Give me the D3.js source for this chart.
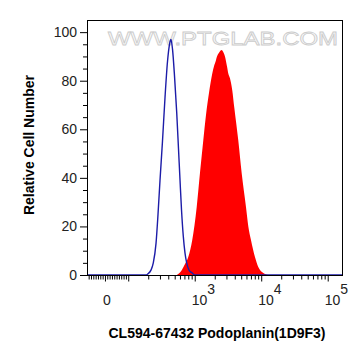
<!DOCTYPE html>
<html>
<head>
<meta charset="utf-8">
<script src="https://cdn.jsdelivr.net/npm/d3@7"></script>
<style>
  body { margin: 0; background: #fff; }
  svg { font-family: "Liberation Sans", Arial, sans-serif; }
  .axis path, .axis line { stroke: #000; }
</style>
</head>
<body>
<svg id="chart" width="364" height="363"></svg>
<script>
// display position on the biexponential axis (decades), and relative cell count
var controlPos = [1.38, 2.267, 2.297, 2.342, 2.377, 2.418, 2.448, 2.478, 2.515, 2.553, 2.591, 2.621, 2.643,
  2.666, 2.696, 2.729, 2.756, 2.779, 2.801, 2.828, 2.854, 2.879, 2.914, 2.954, 3.004, 5.23];
var controlCount = [0, 0, 0.5, 2, 5, 13, 25, 39, 55, 73, 88, 95, 97,
  93, 82, 67, 52, 39, 27, 16, 9, 5, 2, 1, 0, 0];

var stainPos = [2.729, 2.804, 2.854, 2.903, 2.963, 3.030, 3.079, 3.129, 3.170, 3.215, 3.264, 3.290, 3.315,
  3.335, 3.365, 3.406, 3.425, 3.455, 3.485, 3.505, 3.530, 3.565, 3.595, 3.655, 3.706, 3.771, 3.806,
  3.846, 3.906, 3.956, 4.031, 4.102];
var stainCount = [0, 2, 4.5, 7.4, 14.4, 28, 42, 55.5, 66, 75, 83, 86, 88,
  90, 91.5, 92.6, 92, 90, 86, 83, 81, 76, 69, 55.5, 42, 28, 20,
  14.4, 7.4, 3.3, 0.8, 0];

var yMajor = [0, 20, 40, 60, 80, 100];
var yMinor = [5, 10, 15, 25, 30, 35, 45, 50, 55, 65, 70, 75, 85, 90, 95];
var xLabels = [{ pos: 1.65, base: "0", exp: "" }, { pos: 3, base: "10", exp: "3" },
  { pos: 4, base: "10", exp: "4" }, { pos: 5, base: "10", exp: "5" }];

var zeroPos = 1.65;

var svg = d3.select("#chart"),
  margin = { top: 20, right: 21, bottom: 88, left: 87 },
  width = +svg.attr("width"),
  height = +svg.attr("height");

var x = d3.scaleLinear().domain([1.38, 5.23]).range([margin.left, width - margin.right]);
var y = d3.scaleLinear().domain([0, 105]).range([height - margin.bottom, margin.top]);

// tick positions: linear part around zero, log decades above 10^2
function linPos(v) { return zeroPos + v / 100 * (2 - zeroPos); }
var xMinorPos = [], xMajorPos = [zeroPos, 2, 3, 4, 5];
d3.range(-90, 100, 10).forEach(function (v) { if (v !== 0) xMinorPos.push(linPos(v)); });
[2, 3, 4].forEach(function (dec) {
  d3.range(2, 10).forEach(function (m) { xMinorPos.push(dec + Math.log10(m)); });
});
xMinorPos = xMinorPos.filter(function (p) { return p >= 1.38 && p <= 5.23; });

svg.append("defs").append("clipPath").attr("id", "clip")
  .append("rect")
  .attr("x", margin.left).attr("y", margin.top)
  .attr("width", x.range()[1] - margin.left)
  .attr("height", y.range()[0] - margin.top);

// watermark
svg.append("text")
  .attr("x", 108).attr("y", 45)
  .attr("textLength", 230).attr("lengthAdjust", "spacingAndGlyphs")
  .style("font-size", "19px")
  .style("fill", "#fbfbfb")
  .style("stroke", "#cccccc")
  .style("stroke-width", 0.8)
  .text("WWW.PTGLAB.COM");

var stain = stainPos.map(function (p, i) { return { pos: p, count: stainCount[i] }; });
var control = controlPos.map(function (p, i) { return { pos: p, count: controlCount[i] }; });

var area = d3.area()
  .curve(d3.curveMonotoneX)
  .x(d => x(d.pos))
  .y0(y(0))
  .y1(d => y(d.count));

var line = d3.line()
  .curve(d3.curveMonotoneX)
  .x(d => x(d.pos))
  .y(d => y(d.count));

svg.append("path")
  .datum(stain)
  .attr("clip-path", "url(#clip)")
  .attr("fill", "#ff0000")
  .attr("d", area);

svg.append("path")
  .datum(control)
  .attr("clip-path", "url(#clip)")
  .attr("fill", "none")
  .attr("stroke", "#1c1ca8")
  .attr("stroke-width", 1.4)
  .attr("d", line);

// frame
svg.append("rect")
  .attr("x", margin.left + 0.5).attr("y", margin.top + 0.5)
  .attr("width", x.range()[1] - margin.left - 1)
  .attr("height", y.range()[0] - margin.top)
  .attr("fill", "none")
  .attr("stroke", "#000")
  .attr("stroke-width", 1);

// y axis
svg.append("g")
  .attr("class", "axis")
  .attr("transform", "translate(" + margin.left + ",0)")
  .call(d3.axisLeft(y).tickValues(yMajor).tickSize(7).tickPadding(3).tickSizeOuter(0))
  .call(g => g.select(".domain").remove())
  .call(g => g.selectAll("text").style("font-size", "14px").attr("fill", "#222")
    .attr("font-family", "Liberation Sans, Arial, sans-serif"));

svg.append("g")
  .attr("class", "axis")
  .attr("transform", "translate(" + margin.left + ",0)")
  .call(d3.axisLeft(y).tickValues(yMinor).tickSize(4).tickFormat(""))
  .call(g => g.select(".domain").remove());

// x axis
var xAxisY = y(0) + 0.5;
svg.append("g")
  .attr("class", "axis")
  .attr("transform", "translate(0," + xAxisY + ")")
  .call(d3.axisBottom(x).tickValues(xMajorPos).tickSize(6).tickFormat("").tickSizeOuter(0))
  .call(g => g.select(".domain").remove());

svg.append("g")
  .attr("class", "axis")
  .attr("transform", "translate(0," + xAxisY + ")")
  .call(d3.axisBottom(x).tickValues(xMinorPos).tickSize(4).tickFormat(""))
  .call(g => g.select(".domain").remove());

var xl = svg.append("g").selectAll("text")
  .data(xLabels)
  .enter().append("text")
  .attr("x", d => d.exp ? x(d.pos) - 3 : x(d.pos) + 2)
  .attr("y", 305)
  .attr("text-anchor", d => d.exp ? "start" : "middle")
  .style("font-size", "14px")
  .style("fill", "#222");
xl.append("tspan").text(d => d.base);
xl.append("tspan").attr("dy", -11).text(d => d.exp);

// axis titles
svg.append("text")
  .attr("x", 217).attr("y", 338)
  .attr("text-anchor", "middle")
  .style("font-size", "14px")
  .style("font-weight", "bold")
  .text("CL594-67432 Podoplanin(1D9F3)");

svg.append("text")
  .attr("transform", "translate(34,145) rotate(-90)")
  .attr("text-anchor", "middle")
  .style("font-size", "14px")
  .style("font-weight", "bold")
  .text("Relative Cell Number");
</script>
</body>
</html>
